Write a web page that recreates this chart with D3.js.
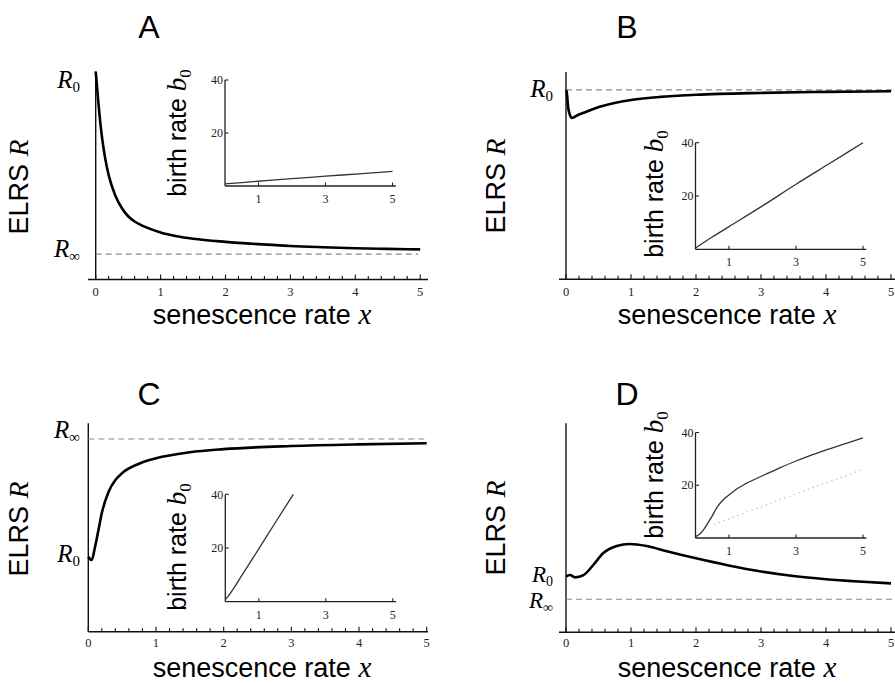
<!DOCTYPE html>
<meta charset="utf-8">
<script src="https://d3js.org/d3.v7.min.js"></script>
<style>
  body { margin: 0; background: #fff; }
</style>
<div id="fig"></div>
<script>

// tick labels
var xTicks = [0, 1, 2, 3, 4, 5];
var xMinorStep = 0.2;
var insetXTicks = [1, 3, 5];
var insetYTicks = [20, 40];

// main curves: ELRS R, scaled so 0 = x axis and 1 = top of the y axis
var aX = [0, 0.02, 0.04, 0.07, 0.1, 0.15, 0.2, 0.3, 0.4, 0.5, 0.6, 0.8, 1, 1.25, 1.5, 2, 2.5, 3, 3.5, 4, 4.5, 5];
var aR = [1, 0.929, 0.854, 0.757, 0.677, 0.576, 0.502, 0.405, 0.345, 0.304, 0.279, 0.248, 0.226, 0.208, 0.196, 0.181, 0.17, 0.161, 0.155, 0.15, 0.147, 0.145];
var bX = [0, 0.01, 0.035, 0.06, 0.09, 0.13, 0.2, 0.27, 0.4, 0.52, 0.78, 1, 1.45, 2, 3, 4, 5];
var bR = [0.913, 0.905, 0.825, 0.793, 0.778, 0.783, 0.795, 0.803, 0.819, 0.832, 0.853, 0.865, 0.88, 0.89, 0.899, 0.904, 0.907];
var cX = [0, 0.05, 0.1, 0.15, 0.2, 0.3, 0.4, 0.5, 0.75, 1, 1.5, 2, 3, 4, 5];
var cR = [0.36, 0.344, 0.408, 0.488, 0.57, 0.672, 0.728, 0.761, 0.806, 0.832, 0.861, 0.876, 0.891, 0.899, 0.904];
var dX = [0, 0.06, 0.14, 0.27, 0.42, 0.57, 0.78, 0.98, 1.24, 1.55, 2, 2.5, 3, 3.5, 4, 4.5, 5];
var dR = [0.266, 0.274, 0.263, 0.274, 0.322, 0.378, 0.413, 0.4225, 0.413, 0.388, 0.354, 0.32, 0.291, 0.269, 0.254, 0.243, 0.234];

// asymptote / start levels (same scaled units)
var aRinf = 0.122;
var bR0 = 0.914;
var cRinf = 0.925;
var dRinf = 0.158;

// insets: birth rate b0 against x
var aInX = [0, 1, 2, 3, 4, 5];
var aInB = [0.8, 1.8, 2.8, 3.7, 4.6, 5.5];
var bInX = [0, 0.5, 1, 2, 3, 4, 5];
var bInB = [0.5, 4.6, 8.5, 16.3, 24.4, 32.2, 40];
var cInX = [0, 0.1, 0.25, 0.5, 1, 1.5, 2.03];
var cInB = [0.8, 2.3, 5.0, 9.9, 19.7, 29.6, 40];
var dInX = [0, 0.1, 0.25, 0.4, 0.5, 0.65, 0.85, 1, 1.2, 1.5, 2, 2.5, 3, 3.5, 4, 4.5, 5];
var dInB = [0.5, 1.2, 3.3, 6.3, 8.4, 11.8, 14.8, 16.3, 18.3, 20.6, 23.6, 26.5, 29.2, 31.6, 33.8, 35.9, 38];
var dInDotX = [0.55, 2.8, 5];
var dInDotB = [5.2, 15.8, 26];

var SANS = "'Liberation Sans', Arial, Helvetica, sans-serif";
var SERIF = "'Liberation Serif', 'Times New Roman', serif";

var svg = d3.select("#fig").append("svg")
  .attr("width", 895)
  .attr("height", 683);

var panels = [
  { name: "A", xs: aX, rs: aR, dash: aRinf, dashEnd: 418,
    x0: 95.7, x5: 420.2, axL: 88, axR: 428, yB: 279.5, yT: 71.5,
    title: [149, 38], ylab: [22, 187], xlab: [262, 324], tickY: 296,
    rLabels: [{sub: "0", x: 80, y: 88}, {sub: "\u221e", x: 80, y: 257}],
    inset: { xs: aInX, bs: aInB, x0: 225, y0: 186, top: 80, lab: [180, 133] } },
  { name: "B", xs: bX, rs: bR, dash: bR0, dashEnd: 893,
    x0: 566, x5: 891, axL: 559, axR: 895, yB: 279.3, yT: 72,
    title: [627, 38], ylab: [499, 186], xlab: [727, 324], tickY: 296,
    rLabels: [{sub: "0", x: 553, y: 97}],
    inset: { xs: bInX, bs: bInB, x0: 695.5, y0: 249.3, top: 142.7, lab: [657, 194] } },
  { name: "C", xs: cX, rs: cR, dash: cRinf, dashEnd: 427,
    x0: 88.3, x5: 426.7, axL: 88.3, axR: 428, yB: 631.7, yT: 423.3,
    title: [149, 405], ylab: [22, 529], xlab: [262, 677], tickY: 647,
    rLabels: [{sub: "\u221e", x: 80, y: 438}, {sub: "0", x: 80, y: 562}],
    inset: { xs: cInX, bs: cInB, x0: 225.3, y0: 601.7, top: 494.3, lab: [180, 547] } },
  { name: "D", xs: dX, rs: dR, dash: dRinf, dashEnd: 893,
    x0: 566, x5: 891, axL: 559, axR: 895, yB: 632.3, yT: 423.3,
    title: [627, 405], ylab: [499, 528], xlab: [727, 677], tickY: 647,
    rLabels: [{sub: "0", x: 553, y: 582, size: 23}, {sub: "\u221e", x: 553, y: 608, size: 23}],
    inset: { xs: dInX, bs: dInB, x0: 695.5, y0: 538, top: 432.5, lab: [657, 475],
             dotX: dInDotX, dotB: dInDotB } }
];

panels.forEach(function(p) {
  var g = svg.append("g");
  var x = d3.scaleLinear().domain([0, 5]).range([p.x0, p.x5]);
  var y = d3.scaleLinear().domain([0, 1]).range([p.yB, p.yT]);

  // axes
  g.append("line").attr("x1", p.axL).attr("x2", p.axR).attr("y1", p.yB).attr("y2", p.yB)
    .attr("stroke", "#111").attr("stroke-width", 1.4);
  g.append("line").attr("x1", p.x0).attr("x2", p.x0).attr("y1", p.yB).attr("y2", p.yT)
    .attr("stroke", "#111").attr("stroke-width", 1.4);

  var minor = d3.range(0, 5 + 1e-6, xMinorStep);
  g.selectAll(".tk").data(minor).enter().append("line")
    .attr("x1", function(d) { return x(d); })
    .attr("x2", function(d) { return x(d); })
    .attr("y1", p.yB)
    .attr("y2", function(d) { return Math.abs(d - Math.round(d)) < 1e-6 ? p.yB - 5 : p.yB - 3.5; })
    .attr("stroke", "#111").attr("stroke-width", 1.1);

  g.selectAll(".tl").data(xTicks).enter().append("text")
    .attr("x", function(d) { return x(d); })
    .attr("y", p.tickY)
    .attr("text-anchor", "middle")
    .style("font-family", SERIF).style("font-size", "12.5px").attr("fill", "#222")
    .text(function(d) { return d; });

  // dashed level
  g.append("line").attr("x1", p.x0).attr("x2", p.dashEnd)
    .attr("y1", y(p.dash)).attr("y2", y(p.dash))
    .attr("stroke", "#8a8a8a").attr("stroke-width", 1.1).attr("stroke-dasharray", "6,4");

  // curve
  var pts = p.xs.map(function(v, i) { return [v, p.rs[i]]; });
  g.append("path").datum(pts)
    .attr("d", d3.line().x(function(d) { return x(d[0]); }).y(function(d) { return y(d[1]); }).curve(d3.curveMonotoneX))
    .attr("fill", "none").attr("stroke", "#000").attr("stroke-width", 2.6);

  // R labels
  p.rLabels.forEach(function(r) {
    var s = r.size || 25;
    var t = g.append("text").attr("x", r.x).attr("y", r.y).attr("text-anchor", "end")
      .style("font-family", SERIF);
    t.append("tspan").style("font-size", s + "px").style("font-style", "italic").text("R");
    t.append("tspan").style("font-size", Math.round(s * 0.6) + "px").attr("dy", 4).text(r.sub);
  });

  // title
  g.append("text").attr("x", p.title[0]).attr("y", p.title[1]).attr("text-anchor", "middle")
    .style("font-family", SANS).style("font-size", "32px").text(p.name);

  // y label
  var yl = g.append("text")
    .attr("transform", "translate(" + p.ylab[0] + "," + p.ylab[1] + ")rotate(-90)")
    .attr("text-anchor", "middle").attr("dy", "0.35em");
  yl.append("tspan").style("font-family", SANS).style("font-size", "27px").text("ELRS ");
  yl.append("tspan").style("font-family", SERIF).style("font-style", "italic").style("font-size", "28px").text("R");

  // x label
  var xl = g.append("text").attr("x", p.xlab[0]).attr("y", p.xlab[1]).attr("text-anchor", "middle");
  xl.append("tspan").style("font-family", SANS).style("font-size", "27px").text("senescence rate ");
  xl.append("tspan").style("font-family", SERIF).style("font-style", "italic").style("font-size", "29px").text("x");

  // inset
  var q = p.inset;
  var ix = d3.scaleLinear().domain([0, 5]).range([q.x0, q.x0 + 167.5]);
  var iy = d3.scaleLinear().domain([0, 40]).range([q.y0, q.top]);
  var ig = g.append("g");
  ig.append("line").attr("x1", q.x0).attr("x2", ix(5.1)).attr("y1", q.y0).attr("y2", q.y0)
    .attr("stroke", "#222").attr("stroke-width", 1.3);
  ig.append("line").attr("x1", q.x0).attr("x2", q.x0).attr("y1", q.y0).attr("y2", iy(40))
    .attr("stroke", "#222").attr("stroke-width", 1.3);
  ig.selectAll(".ixt").data(insetXTicks).enter().append("line")
    .attr("x1", function(d) { return ix(d); }).attr("x2", function(d) { return ix(d); })
    .attr("y1", q.y0).attr("y2", q.y0 - 3.5)
    .attr("stroke", "#222").attr("stroke-width", 1.1);
  ig.selectAll(".ixl").data(insetXTicks).enter().append("text")
    .attr("x", function(d) { return ix(d); }).attr("y", q.y0 + 17)
    .attr("text-anchor", "middle")
    .style("font-family", SERIF).style("font-size", "12px").attr("fill", "#222")
    .text(function(d) { return d; });
  ig.selectAll(".iyt").data(insetYTicks).enter().append("line")
    .attr("x1", q.x0).attr("x2", q.x0 + 3.5)
    .attr("y1", function(d) { return iy(d); }).attr("y2", function(d) { return iy(d); })
    .attr("stroke", "#222").attr("stroke-width", 1.1);
  ig.selectAll(".iyl").data(insetYTicks).enter().append("text")
    .attr("x", q.x0 - 2).attr("y", function(d) { return iy(d); }).attr("dy", "0.35em")
    .attr("text-anchor", "end")
    .style("font-family", SERIF).style("font-size", "12px").attr("fill", "#222")
    .text(function(d) { return d; });

  var ipts = q.xs.map(function(v, i) { return [v, q.bs[i]]; });
  var iline = d3.line().x(function(d) { return ix(d[0]); }).y(function(d) { return iy(d[1]); }).curve(d3.curveMonotoneX);
  ig.append("path").datum(ipts).attr("d", iline)
    .attr("fill", "none").attr("stroke", "#333").attr("stroke-width", 1.3);
  if (q.dotX) {
    var dpts = q.dotX.map(function(v, i) { return [v, q.dotB[i]]; });
    ig.append("path").datum(dpts).attr("d", iline)
      .attr("fill", "none").attr("stroke", "#c4c4c4").attr("stroke-width", 1.3)
      .attr("stroke-dasharray", "1.5,3.5");
  }

  var il = ig.append("text")
    .attr("transform", "translate(" + q.lab[0] + "," + q.lab[1] + ")rotate(-90)")
    .attr("text-anchor", "middle").attr("dy", "0.35em");
  il.append("tspan").style("font-family", SANS).style("font-size", "25px").text("birth rate ");
  il.append("tspan").style("font-family", SERIF).style("font-style", "italic").style("font-size", "27px").text("b");
  il.append("tspan").style("font-family", SERIF).style("font-size", "17px").attr("dy", 5).text("0");
});
</script>
